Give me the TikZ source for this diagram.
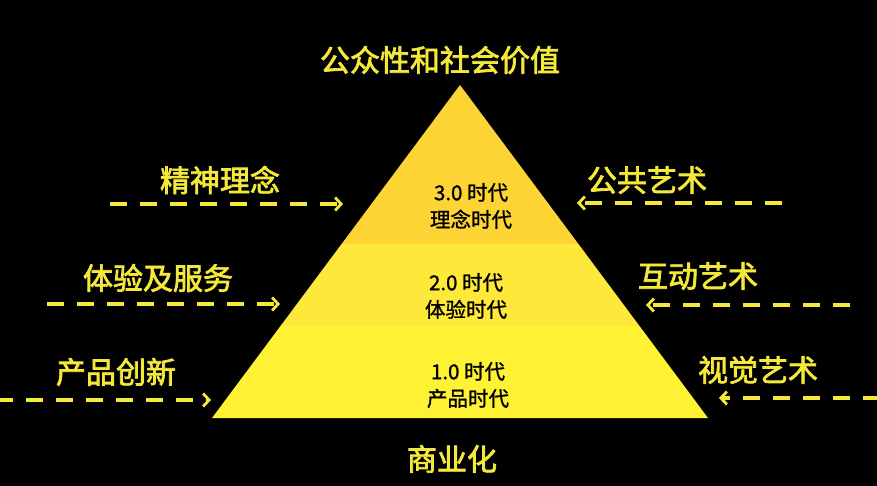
\documentclass[tikz,border=0pt]{standalone}
\usepackage{fontspec}
\setmainfont{Noto Sans CJK SC}
\newfontfamily\erafont{Noto Sans CJK SC}[FakeBold=1.2]
\newfontfamily\labelfont{Noto Sans CJK SC}[FakeBold=2.4]
\usetikzlibrary{arrows.meta}
\definecolor{bandtop}{HTML}{FCD434}
\definecolor{bandmid}{HTML}{FEE839}
\definecolor{bandlow}{HTML}{FFF234}
\definecolor{labelyellow}{HTML}{F4E83A}
\tikzset{
  label/.style={text=labelyellow, font=\labelfont\fontsize{30}{34}\selectfont},
  era/.style={text=black, align=center, font=\erafont\fontsize{20.5}{27}\selectfont},
  flow/.style={draw=labelyellow, line width=3.4pt, dash pattern=on 17pt off 13pt,
    -{Straight Barb[length=6pt,width=13pt,line width=2.8pt]}},
}
\begin{document}
\begin{tikzpicture}[x=1pt, y=-1pt]
    \fill[black] (0,0) rectangle (877,486);
    \useasboundingbox (0,0) rectangle (877,486);
    \coordinate (apex) at (460,85);
    \coordinate (baseL) at (212,418);
    \coordinate (baseR) at (708,418);
    \begin{scope}
        \clip (apex) -- (baseL) -- (baseR) -- cycle;
        \fill[bandtop] (0,80) rectangle (877,244);
        \fill[bandmid] (0,244) rectangle (877,326);
        \fill[bandlow] (0,326) rectangle (877,420);
    \end{scope}
    \node[era] (era3) at (471,206) {3.0 时代\\理念时代};
    \node[era] (era2) at (466,296) {2.0 时代\\体验时代};
    \node[era] (era1) at (468,385) {1.0 时代\\产品时代};
    \node[label] (top) at (440,60) {公众性和社会价值};
    \node[label] (bottom) at (452,459) {商业化};
    \node[label] (spirit) at (220,180) {精神理念};
    \node[label] (experience) at (158,278) {体验及服务};
    \node[label] (product) at (116,372) {产品创新};
    \node[label] (public) at (647,180) {公共艺术};
    \node[label] (interact) at (698,276) {互动艺术};
    \node[label] (visual) at (758,370) {视觉艺术};
    \coordinate (spiritS) at (110,204);
    \coordinate (spiritE) at (343,204);
    \coordinate (experienceS) at (47,304);
    \coordinate (experienceE) at (280,304);
    \coordinate (productS) at (-4,400);
    \coordinate (productE) at (211,400);
    \coordinate (publicS) at (782,203);
    \coordinate (publicE) at (577,203);
    \coordinate (interactS) at (850,305);
    \coordinate (interactE) at (646,305);
    \coordinate (visualS) at (880,398);
    \coordinate (visualE) at (719,398);
    \draw[flow] (spiritS) -- (spiritE);
    \draw[flow] (experienceS) -- (experienceE);
    \draw[flow] (productS) -- (productE);
    \draw[flow] (publicS) -- (publicE);
    \draw[flow] (interactS) -- (interactE);
    \draw[flow] (visualS) -- (visualE);
\end{tikzpicture}
\end{document}
